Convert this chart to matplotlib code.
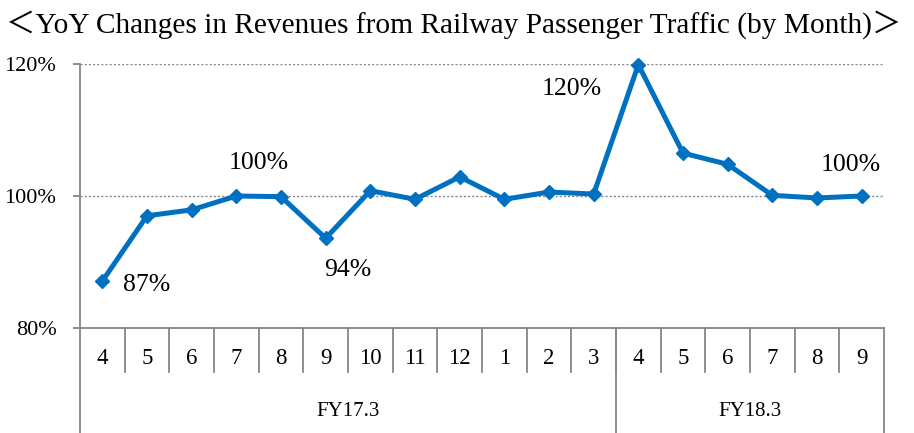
import matplotlib
matplotlib.use("Agg")
import matplotlib.pyplot as plt
import matplotlib.transforms as mtransforms

plt.rcParams['font.family'] = ['Liberation Serif', 'Noto Sans CJK JP', 'DejaVu Sans']

months = ['4', '5', '6', '7', '8', '9', '10', '11', '12', '1', '2', '3',
          '4', '5', '6', '7', '8', '9']
groups = ['FY17.3', 'FY18.3']
group_sizes = [12, 6]
yoy = [87.1, 97.0, 97.9, 100.0, 99.9, 93.6, 100.8, 99.5, 102.9, 99.5, 100.6, 100.3,
       119.9, 106.5, 104.8, 100.1, 99.7, 100.0]
# (index, label, dx, dy) -- labels placed near selected points
notes = [(0, '87%', 1.0, -0.6), (3, '100%', 0.5, 5.0), (5, '94%', 0.5, -4.8),
         (11, '120%', -0.5, 15.9), (17, '100%', -0.25, 4.7)]

W, H = 914, 433
fig = plt.figure(figsize=(W / 100, H / 100), dpi=100)
ax = fig.add_axes([80 / W, (H - 328) / H, (884 - 80) / W, (328 - 64) / H])

blue = '#0070C0'
gray = '#868686'
x = list(range(len(yoy)))
ax.plot(x, yoy, color=blue, lw=3.6, marker='D', ms=7, clip_on=False, zorder=3)

ax.set_xlim(-0.5, len(yoy) - 0.5)
ax.set_ylim(80, 120)
ax.set_yticks([80, 100, 120])
ax.set_yticklabels(['80%', '100%', '120%'])
ax.set_xticks([])
for s in ['top', 'right']:
    ax.spines[s].set_visible(False)
for s in ['left', 'bottom']:
    ax.spines[s].set_color(gray)
    ax.spines[s].set_linewidth(1.3)
ax.tick_params(axis='y', length=5, width=1.3, color=gray, pad=12, labelsize=16)
for yv in [100, 120]:
    ax.axhline(yv, color=gray, lw=1.0, ls=(0, (1.5, 1.5)), zorder=1)

for i, lab, dx, dy in notes:
    ax.text(i + dx, yoy[i] + dy, lab, fontsize=18.5, ha='center', va='center')

# category axis drawn below the plot
tr = mtransforms.blended_transform_factory(ax.transData, ax.transAxes)
row1 = -44 / 264
row2 = -(433 - 328) / 264
for i, m in enumerate(months):
    ax.text(i, -30 / 264, m, transform=tr, fontsize=16.5, ha='center', va='center')
for i in range(1, len(months)):
    ax.plot([i - 0.5, i - 0.5], [0, row1], transform=tr, color=gray, lw=1.3, clip_on=False)
start = 0
bounds = [-0.5]
for g, n in zip(groups, group_sizes):
    ax.text(start + (n - 1) / 2, -83 / 264, g, transform=tr,
            fontsize=15, ha='center', va='center')
    start += n
    bounds.append(start - 0.5)
for b in bounds:
    ax.plot([b, b], [0, row2], transform=tr, color=gray, lw=1.3, clip_on=False)

fig.text(6 / W, 1 - 25 / H, '＜YoY Changes in Revenues from Railway Passenger Traffic (by Month)＞',
         fontsize=21.2, ha='left', va='center')

fig.savefig('out.png', dpi=100)
